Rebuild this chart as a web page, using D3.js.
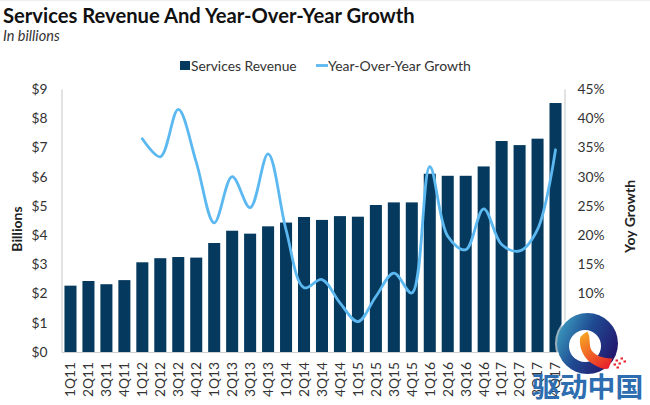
<!DOCTYPE html>
<html>
<head>
<meta charset="utf-8">
<script src="https://cdn.jsdelivr.net/npm/d3@7"></script>
<style>
html, body { margin: 0; padding: 0; background: #fff; }
svg { display: block; font-family: Lato, "Open Sans", sans-serif; }
</style>
</head>
<body>
<svg width="650" height="405"></svg>
<script>
// Data
const quarters = ["1Q11","2Q11","3Q11","4Q11","1Q12","2Q12","3Q12","4Q12","1Q13","2Q13","3Q13","4Q13","1Q14","2Q14","3Q14","4Q14","1Q15","2Q15","3Q15","4Q15","1Q16","2Q16","3Q16","4Q16","1Q17","2Q17","3Q17","4Q17"];
const revenue = [2.27,2.43,2.32,2.46,3.07,3.21,3.25,3.23,3.73,4.15,4.05,4.3,4.43,4.62,4.52,4.65,4.63,5.03,5.12,5.12,6.1,6.03,6.03,6.35,7.22,7.08,7.3,8.52];
const growth = [null,null,null,null,36.5,33.4,41.5,32.5,22.1,30,24.7,33.9,20.9,11,12.4,8.4,5.2,9.5,13.5,10.1,31.7,19.8,17.5,24.5,18.4,17.3,21,34.6];
const revenueTicks = [0,1,2,3,4,5,6,7,8,9];
const growthTicks = [0,5,10,15,20,25,30,35,40,45];

const navy = "#053a5e";
const sky = "#5cb8f0";
const textColor = "#333";

const svg = d3.select("svg");

// top hairline of the screenshot
svg.append("rect").attr("width", 650).attr("height", 1).attr("fill", "#eee");

const x = d3.scaleBand().domain(quarters).range([61.5, 564.5]).paddingInner(0.33).paddingOuter(0.165);
const yLeft = d3.scaleLinear().domain([0, 9]).range([352, 89]);
const yRight = d3.scaleLinear().domain([0, 45]).range([352, 89]);

// Bars
svg.selectAll(".bar")
    .data(revenue)
    .join("rect")
    .attr("class", "bar")
    .attr("x", (d, i) => x(quarters[i]))
    .attr("y", d => yLeft(d))
    .attr("width", x.bandwidth())
    .attr("height", d => yLeft(0) - yLeft(d))
    .attr("fill", navy);

// Axes
const axisLeft = svg.append("g")
    .attr("transform", "translate(61.5,0)")
    .call(d3.axisLeft(yLeft).tickValues(revenueTicks).tickFormat(d => "$" + d).tickSize(0).tickPadding(14));
const axisRight = svg.append("g")
    .attr("transform", "translate(564.5,0)")
    .call(d3.axisRight(yRight).tickValues(growthTicks).tickFormat(d => d + "%").tickSize(0).tickPadding(13));
const axisBottom = svg.append("g")
    .attr("transform", "translate(0,352)")
    .call(d3.axisBottom(x).tickSize(0).tickPadding(0));

axisBottom.selectAll("text")
    .attr("transform", "rotate(-90)")
    .attr("text-anchor", "end")
    .attr("x", -10)
    .attr("y", 0)
    .attr("dy", "0.35em");

[axisLeft, axisRight, axisBottom].forEach(g => {
    g.selectAll("text").attr("font-size", 13.8).attr("font-family", "Lato, sans-serif").attr("fill", textColor);
    g.select(".domain").attr("stroke", "#cfcfcf").attr("stroke-width", 1.2);
});

// Growth line
const line = d3.line()
    .defined(d => d !== null)
    .x((d, i) => x(quarters[i]) + x.bandwidth() / 2)
    .y(d => yRight(d))
    .curve(d3.curveCatmullRom.alpha(0.5));

svg.append("path")
    .datum(growth)
    .attr("d", line)
    .attr("fill", "none")
    .attr("stroke", sky)
    .attr("stroke-width", 2.8)
    .attr("stroke-linecap", "round");

// Titles
svg.append("text").attr("x", 3).attr("y", 23).attr("font-size", 20.2).attr("font-weight", 700).attr("fill", "#111")
    .text("Services Revenue And Year-Over-Year Growth");
svg.append("text").attr("x", 3).attr("y", 41).attr("font-size", 14.5).attr("font-style", "italic").attr("fill", textColor)
    .text("In billions");

// Axis titles
svg.append("text").attr("transform", "translate(22,229) rotate(-90)").attr("text-anchor", "middle")
    .attr("font-size", 14).attr("font-weight", 700).attr("fill", "#222").text("Billions");
svg.append("text").attr("transform", "translate(635,216.5) rotate(-90)").attr("text-anchor", "middle")
    .attr("font-size", 14).attr("font-weight", 700).attr("fill", "#222").text("Yoy Growth");

// Legend
svg.append("rect").attr("x", 180).attr("y", 61).attr("width", 10).attr("height", 9).attr("fill", navy);
svg.append("text").attr("x", 191).attr("y", 71).attr("font-size", 13.8).attr("fill", textColor).text("Services Revenue");
svg.append("line").attr("x1", 316).attr("x2", 328).attr("y1", 65.5).attr("y2", 65.5)
    .attr("stroke", sky).attr("stroke-width", 2.8);
svg.append("text").attr("x", 328).attr("y", 71).attr("font-size", 14).attr("fill", textColor).text("Year-Over-Year Growth");

// Watermark in the lower right corner
const defs = svg.append("defs");
const grad = defs.append("linearGradient").attr("id", "ring").attr("x1", 0).attr("y1", 0.1).attr("x2", 1).attr("y2", 0.6);
grad.append("stop").attr("offset", "0%").attr("stop-color", "#3fa6c4");
grad.append("stop").attr("offset", "50%").attr("stop-color", "#1f4a92");
grad.append("stop").attr("offset", "100%").attr("stop-color", "#23186e");
const flame = defs.append("linearGradient").attr("id", "flame").attr("x1", 0.1).attr("y1", 0).attr("x2", 0.8).attr("y2", 1);
flame.append("stop").attr("offset", "0%").attr("stop-color", "#f7a823");
flame.append("stop").attr("offset", "100%").attr("stop-color", "#e8202a");

const logo = svg.append("g").attr("transform", "translate(587.5,343.5)");
logo.append("circle").attr("r", 32.5).attr("fill", "#fff").attr("opacity", 0.6);
logo.append("circle").attr("r", 30.5).attr("fill", "url(#ring)");
logo.append("circle").attr("cx", -2.5).attr("cy", 2.5).attr("r", 16).attr("fill", "#fff");
logo.append("path")
    .attr("d", "M0,-12 C-3,-10 -7,-8 -7.5,-5 C-8,0 -7,5 -5,9 C-2,15 2,19 8,22 C13,25 18,26 21,25 L25,15 C20,15 14,14 10,12 C5,9 3,6 2.5,2 C2,-2 2,-6 1.5,-8Z")
    .attr("fill", "url(#flame)");
logo.selectAll(".spark").data([[26, 20], [28, 16], [31, 19], [33, 14], [36, 17], [29, 23]]).join("rect")
    .attr("class", "spark")
    .attr("x", d => d[0]).attr("y", d => d[1]).attr("width", 2.5).attr("height", 2).attr("fill", "#e8202a");

svg.append("text").attr("x", 532).attr("y", 397).attr("font-size", 27.8).attr("font-weight", 700)
    .attr("font-family", '"Noto Sans CJK SC"').attr("fill", "#2d6db0").text("驱动中国");
</script>
</body>
</html>
